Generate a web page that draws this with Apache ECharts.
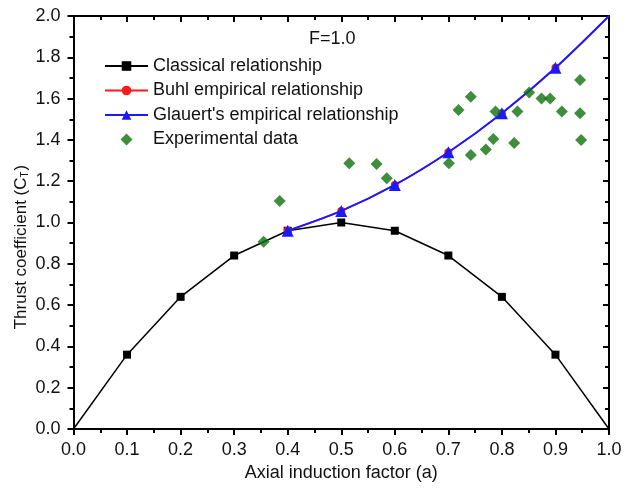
<!DOCTYPE html>
<html>
<head>
<meta charset="utf-8">
<script src="https://cdn.jsdelivr.net/npm/echarts@6/dist/echarts.min.js"></script>
<style>html,body{margin:0;padding:0;background:#fff}#c{width:625px;height:489px}</style>
</head>
<body>
<div id="c"></div>
<script>
// Data
var classicalA = [0.0, 0.1, 0.2, 0.3, 0.4, 0.5, 0.6, 0.7, 0.8, 0.9, 1.0];
var classicalCT = [0.0, 0.36, 0.64, 0.84, 0.96, 1.0, 0.96, 0.84, 0.64, 0.36, 0.0];
var empiricalA = [0.4, 0.5, 0.6, 0.7, 0.8, 0.9, 1.0];
var buhlCT = [0.96, 1.056, 1.182, 1.34, 1.529, 1.749, 2.0];
var glauertCT = [0.96, 1.056, 1.182, 1.34, 1.529, 1.749, 2.0];
var expA = [0.355, 0.385, 0.515, 0.566, 0.585, 0.701, 0.719, 0.742, 0.742, 0.770, 0.784, 0.788, 0.823, 0.829, 0.851, 0.874, 0.890, 0.912, 0.946, 0.946, 0.948];
var expCT = [0.907, 1.104, 1.287, 1.283, 1.214, 1.287, 1.545, 1.327, 1.609, 1.354, 1.404, 1.537, 1.385, 1.537, 1.629, 1.601, 1.601, 1.537, 1.690, 1.529, 1.400];
var xTicks = {min: 0, max: 1, interval: 0.1};
var yTicks = {min: 0, max: 2, interval: 0.2};

function pairs(xs, ys) { return xs.map(function (x, i) { return [x, ys[i]]; }); }
function hideEnds(arr, hideFirst, hideLast) {
  return arr.map(function (p, i) {
    if ((hideFirst && i === 0) || (hideLast && i === arr.length - 1)) {
      return {value: p, symbol: 'none'};
    }
    return p;
  });
}

var font = 'Arial, "Liberation Sans", sans-serif';
var diamond = 'path://M0,-1L1,0L0,1L-1,0Z';
var chart = echarts.init(document.getElementById('c'));
var axisLine = {show: true, onZero: false, lineStyle: {color: '#000', width: 2}};

chart.setOption({
  animation: false,
  backgroundColor: '#fff',
  title: {
    text: 'F=1.0', left: 309, top: 30, padding: 0,
    textStyle: {fontFamily: font, fontSize: 18, fontWeight: 'normal', color: '#111'}
  },
  legend: {
    orient: 'vertical', left: 104, top: 56, padding: 0,
    itemWidth: 43, itemHeight: 12, itemGap: 4.5,
    textStyle: {fontFamily: font, fontSize: 18, color: '#111', lineHeight: 20},
    data: ['Classical relationship', 'Buhl empirical relationship', "Glauert's empirical relationship",
      {name: 'Experimental data', icon: diamond}]
  },
  grid: {left: 73.5, right: 16, top: 16, bottom: 60, containLabel: false},
  xAxis: [{
    type: 'value', min: xTicks.min, max: xTicks.max, interval: xTicks.interval,
    name: 'Axial induction factor (a)', nameLocation: 'middle', nameGap: 29,
    nameTextStyle: {fontFamily: font, fontSize: 18, color: '#111'},
    axisLine: axisLine,
    axisTick: {show: true, inside: false, length: 6, lineStyle: {color: '#000', width: 2}},
    minorTick: {show: true, splitNumber: 2, length: 4, lineStyle: {color: '#000', width: 2}},
    axisLabel: {fontFamily: font, fontSize: 18, color: '#111', margin: 12,
      formatter: function (v) { return v.toFixed(1); }},
    splitLine: {show: false}
  }, {
    type: 'value', position: 'top', min: xTicks.min, max: xTicks.max, interval: xTicks.interval,
    axisLine: axisLine,
    axisTick: {show: true, inside: true, length: 6, lineStyle: {color: '#000', width: 2}},
    minorTick: {show: true, splitNumber: 2, length: 4, lineStyle: {color: '#000', width: 2}},
    axisLabel: {show: false}, splitLine: {show: false}
  }],
  yAxis: [{
    type: 'value', min: yTicks.min, max: yTicks.max, interval: yTicks.interval,
    axisLine: axisLine,
    axisTick: {show: true, inside: false, length: 6, lineStyle: {color: '#000', width: 2}},
    minorTick: {show: true, splitNumber: 2, length: 4, lineStyle: {color: '#000', width: 2}},
    axisLabel: {fontFamily: font, fontSize: 18, color: '#111', margin: 13,
      formatter: function (v) { return v.toFixed(1); }},
    splitLine: {show: false}
  }, {
    type: 'value', position: 'right', min: yTicks.min, max: yTicks.max, interval: yTicks.interval,
    axisLine: axisLine,
    axisTick: {show: true, inside: true, length: 6, lineStyle: {color: '#000', width: 2}},
    minorTick: {show: true, splitNumber: 2, length: 4, lineStyle: {color: '#000', width: 2}},
    axisLabel: {show: false}, splitLine: {show: false}
  }],
  graphic: [{
    type: 'text', x: 21, y: 247, rotation: Math.PI / 2,
    style: {
      text: 'Thrust coefficient (C{sub|T})',
      font: '17px ' + font, fill: '#111',
      align: 'center', verticalAlign: 'middle',
      rich: {sub: {fontSize: 10, fontFamily: font, fill: '#111', padding: [8, 1, 0, 0]}}
    }
  }],
  series: [{
    name: 'Classical relationship', type: 'line',
    data: hideEnds(pairs(classicalA, classicalCT), true, true),
    symbol: 'rect', symbolSize: 8,
    lineStyle: {color: '#000', width: 1.5}, itemStyle: {color: '#000'}, z: 3
  }, {
    name: 'Buhl empirical relationship', type: 'line',
    data: hideEnds(pairs(empiricalA, buhlCT), false, true),
    symbol: 'circle', symbolSize: 8, smooth: 0.3,
    lineStyle: {color: '#ff1a1a', width: 1.5}, itemStyle: {color: '#ff1a1a'}, z: 4
  }, {
    name: "Glauert's empirical relationship", type: 'line',
    data: hideEnds(pairs(empiricalA, glauertCT), false, true),
    symbol: 'triangle', symbolSize: 12, smooth: 0.3,
    lineStyle: {color: '#1a1aff', width: 2}, itemStyle: {color: '#1a1aff'}, z: 5
  }, {
    name: 'Experimental data', type: 'scatter',
    data: pairs(expA, expCT),
    symbol: diamond, symbolKeepAspect: true, symbolSize: 12,
    itemStyle: {color: '#0e720e'}, z: 6
  }]
});
</script>
</body>
</html>
